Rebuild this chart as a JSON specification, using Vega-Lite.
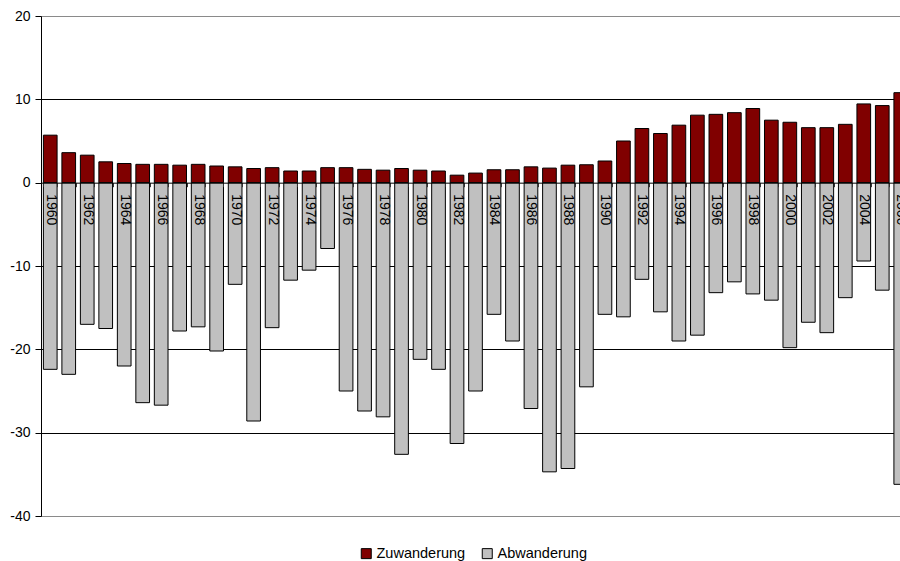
{
  "$schema": "https://vega.github.io/schema/vega-lite/v6.json",
  "autosize": "none",
  "width": 860,
  "height": 500,
  "padding": {"left": 41, "top": 16, "right": 0, "bottom": 45},
  "background": "white",
  "config": {
    "font": "Liberation Sans",
    "view": {"stroke": "#8a8a8a", "strokeWidth": 1}
  },
  "datasets": {
    "wide": [
      {"year": 1960, "Zuwanderung": 5.7, "Abwanderung": -22.4},
      {"year": 1961, "Zuwanderung": 3.6, "Abwanderung": -23.0},
      {"year": 1962, "Zuwanderung": 3.3, "Abwanderung": -17.0},
      {"year": 1963, "Zuwanderung": 2.5, "Abwanderung": -17.5},
      {"year": 1964, "Zuwanderung": 2.3, "Abwanderung": -22.0},
      {"year": 1965, "Zuwanderung": 2.2, "Abwanderung": -26.4},
      {"year": 1966, "Zuwanderung": 2.2, "Abwanderung": -26.7},
      {"year": 1967, "Zuwanderung": 2.1, "Abwanderung": -17.8},
      {"year": 1968, "Zuwanderung": 2.2, "Abwanderung": -17.3},
      {"year": 1969, "Zuwanderung": 2.0, "Abwanderung": -20.2},
      {"year": 1970, "Zuwanderung": 1.9, "Abwanderung": -12.2},
      {"year": 1971, "Zuwanderung": 1.7, "Abwanderung": -28.6},
      {"year": 1972, "Zuwanderung": 1.8, "Abwanderung": -17.4},
      {"year": 1973, "Zuwanderung": 1.4, "Abwanderung": -11.7},
      {"year": 1974, "Zuwanderung": 1.4, "Abwanderung": -10.5},
      {"year": 1975, "Zuwanderung": 1.8, "Abwanderung": -7.9},
      {"year": 1976, "Zuwanderung": 1.8, "Abwanderung": -25.0},
      {"year": 1977, "Zuwanderung": 1.6, "Abwanderung": -27.4},
      {"year": 1978, "Zuwanderung": 1.5, "Abwanderung": -28.1},
      {"year": 1979, "Zuwanderung": 1.7, "Abwanderung": -32.6},
      {"year": 1980, "Zuwanderung": 1.5, "Abwanderung": -21.2},
      {"year": 1981, "Zuwanderung": 1.4, "Abwanderung": -22.4},
      {"year": 1982, "Zuwanderung": 0.9, "Abwanderung": -31.3},
      {"year": 1983, "Zuwanderung": 1.15, "Abwanderung": -25.0},
      {"year": 1984, "Zuwanderung": 1.55, "Abwanderung": -15.8},
      {"year": 1985, "Zuwanderung": 1.55, "Abwanderung": -19.0},
      {"year": 1986, "Zuwanderung": 1.9, "Abwanderung": -27.1},
      {"year": 1987, "Zuwanderung": 1.75, "Abwanderung": -34.7},
      {"year": 1988, "Zuwanderung": 2.1, "Abwanderung": -34.3},
      {"year": 1989, "Zuwanderung": 2.15, "Abwanderung": -24.5},
      {"year": 1990, "Zuwanderung": 2.6, "Abwanderung": -15.8},
      {"year": 1991, "Zuwanderung": 5.0, "Abwanderung": -16.1},
      {"year": 1992, "Zuwanderung": 6.5, "Abwanderung": -11.6},
      {"year": 1993, "Zuwanderung": 5.9, "Abwanderung": -15.5},
      {"year": 1994, "Zuwanderung": 6.9, "Abwanderung": -19.0},
      {"year": 1995, "Zuwanderung": 8.1, "Abwanderung": -18.3},
      {"year": 1996, "Zuwanderung": 8.2, "Abwanderung": -13.2},
      {"year": 1997, "Zuwanderung": 8.4, "Abwanderung": -11.9},
      {"year": 1998, "Zuwanderung": 8.9, "Abwanderung": -13.35},
      {"year": 1999, "Zuwanderung": 7.5, "Abwanderung": -14.1},
      {"year": 2000, "Zuwanderung": 7.25, "Abwanderung": -19.8},
      {"year": 2001, "Zuwanderung": 6.6, "Abwanderung": -16.75},
      {"year": 2002, "Zuwanderung": 6.6, "Abwanderung": -18.0},
      {"year": 2003, "Zuwanderung": 7.0, "Abwanderung": -13.8},
      {"year": 2004, "Zuwanderung": 9.45, "Abwanderung": -9.4},
      {"year": 2005, "Zuwanderung": 9.25, "Abwanderung": -12.9},
      {"year": 2006, "Zuwanderung": 10.8, "Abwanderung": -36.2}
    ]
  },
  "data": {"name": "wide"},
  "transform": [
    {"fold": ["Zuwanderung", "Abwanderung"], "as": ["type", "value"]}
  ],
  "mark": {"type": "bar", "clip": true, "stroke": "#000", "strokeWidth": 1},
  "encoding": {
    "x": {
      "field": "year",
      "type": "ordinal",
      "scale": {"range": [0, 869], "paddingInner": 0.26, "paddingOuter": 0.13},
      "axis": {
        "title": null,
        "offset": -333.33,
        "zindex": 1,
        "tickBand": "extent",
        "domainColor": "#000",
        "domainWidth": 1,
        "tickColor": "#333",
        "tickSize": 4,
        "labelAngle": 90,
        "labelAlign": "left",
        "labelBaseline": "middle",
        "labelPadding": 7,
        "labelFontSize": 14,
        "labelColor": "#000",
        "labelOverlap": false,
        "labelFlush": false,
        "labelExpr": "datum.value % 2 == 0 ? datum.label : ''"
      }
    },
    "y": {
      "field": "value",
      "type": "quantitative",
      "stack": "zero",
      "scale": {"domain": [-40, 20], "nice": false},
      "axis": {
        "title": null,
        "values": [-40, -30, -20, -10, 0, 10, 20],
        "labelExpr": "'' + datum.value",
        "domainColor": "#000",
        "tickColor": "#000",
        "tickSize": 6,
        "labelPadding": 5,
        "labelFontSize": 14,
        "labelColor": "#000",
        "gridColor": "#000",
        "gridOpacity": {"condition": {"test": "datum.value == 20 || datum.value == -40 || datum.value == 0", "value": 0}, "value": 1}
      }
    },
    "color": {
      "field": "type",
      "type": "nominal",
      "scale": {"domain": ["Zuwanderung", "Abwanderung"], "range": ["#800000", "#c0c0c0"]},
      "legend": {
        "orient": "none",
        "legendX": 318,
        "legendY": 530,
        "direction": "horizontal",
        "title": null,
        "symbolType": "square",
        "symbolSize": 100,
        "symbolStrokeColor": "#000",
        "symbolStrokeWidth": 1,
        "labelFontSize": 14.5,
        "labelColor": "#000",
        "labelOffset": 3,
        "columnPadding": 14,
        "padding": 0
      }
    }
  }
}
